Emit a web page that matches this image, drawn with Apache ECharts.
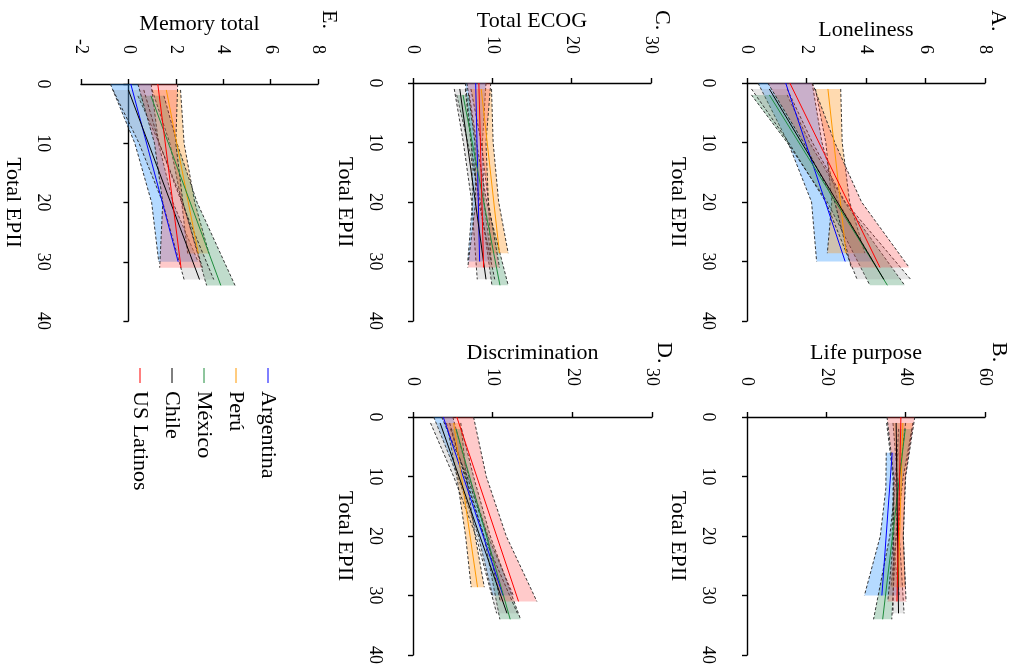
<!DOCTYPE html>
<html><head><meta charset="utf-8">
<script src="https://cdn.jsdelivr.net/npm/echarts@6/dist/echarts.min.js"></script>
<style>html,body{margin:0;padding:0;background:#fff}#c{width:1016px;height:671px}</style>
</head><body><div id="c"></div><script>
// ---- data ----
const countries = ['Argentina', 'Perú', 'México', 'Chile', 'US Latinos'];
const epiiTicks = [0, 10, 20, 30, 40];

// EPII sample positions (first/last = range of each country's fit)
const epiiDefault = [[0,10,20,30],[1,10,20,28.6],[2,10,20,34],[1,10,20,33],[0,10,20,31]];
const epiiLifePurpose = [[6,12,20,30],[1,10,20,28.6],[2,10,20,34],[1,10,20,33],[0,10,20,31]];

// A. Loneliness
const lonelinessFit   = [[1.3,3.3],[2.72,3.33],[0.75,4.72],[0.75,4.6],[1.44,4.47]];
const lonelinessLower = [[0.37,1.38,2.17,2.34],[2.3,2.65,2.85,2.7],[0.15,1.35,2.7,4.13],[0.15,1.4,2.65,3.7],[0.7,1.9,2.95,3.5]];
const lonelinessUpper = [[2.19,2.52,3.07,4.24],[3.15,3.2,3.45,3.96],[1.35,2.1,3.28,5.3],[1.35,2.2,3.3,5.5],[2.2,2.95,3.85,5.45]];

// B. Life purpose
const purposeFit   = [[36.6,34.0],[39.3,38.1],[39.9,34.2],[37.6,38.2],[38.8,37.8]];
const purposeLower = [[35.1,35.0,33.6,29.6],[36.8,37.9,37.6,36.3],[38.2,37.6,36.0,31.9],[35.2,36.8,37.0,36.8],[35.3,37.0,37.0,35.5]];
const purposeUpper = [[38.1,36.9,36.6,38.4],[41.8,39.9,39.4,39.9],[41.6,39.4,37.6,36.5],[40.0,38.4,38.4,39.6],[42.3,40.0,39.4,40.1]];

// C. Total ECOG
const ecogFit   = [[7.9,8.4],[8.6,10.9],[6.3,10.96],[5.9,9.2],[8.3,8.9]];
const ecogLower = [[6.6,7.4,7.5,6.9],[7.3,8.6,9.5,9.8],[5.5,6.9,8.5,9.95],[5.2,6.35,7.4,8.1],[6.8,7.8,7.9,6.9]];
const ecogUpper = [[9.2,8.75,8.95,9.9],[9.9,10.1,10.8,12.0],[7.1,8.0,9.3,12.0],[6.6,7.3,8.3,10.3],[9.8,9.2,9.5,10.9]];

// D. Discrimination
const discrFit   = [[3.8,11.3],[5.1,8.1],[5.4,12.2],[3.4,11.8],[5.5,13.25]];
const discrLower = [[2.6,5.6,8.2,10.0],[4.2,5.5,6.6,7.3],[4.7,6.6,8.9,10.9],[2.2,5.1,7.9,10.5],[3.6,6.8,9.3,10.95]];
const discrUpper = [[5.0,7.0,9.4,12.6],[6.0,6.7,7.8,8.95],[6.1,7.6,9.7,13.5],[4.6,6.5,8.9,13.1],[7.6,9.2,11.7,15.55]];

// E. Memory total
const memoryFit   = [[0.1,2.1],[1.6,2.95],[0.95,3.9],[0.0,3.0],[1.24,2.22]];
const memoryLower = [[-0.76,0.27,0.98,1.28],[1.0,1.75,2.25,2.5],[0.4,1.3,2.3,3.3],[-0.65,0.45,1.45,2.35],[0.4,1.1,1.45,1.32]];
const memoryUpper = [[0.96,1.27,1.88,2.94],[2.2,2.35,2.8,3.4],[1.5,2.05,2.9,4.5],[0.65,1.3,2.25,3.6],[2.08,2.0,2.3,3.12]];

// ---- styles ----
const lineColors = ['#0000ff', '#ff9900', '#1e8c3c', '#000000', '#ff0000'];
const fillColors = ['rgba(30,144,255,0.33)', 'rgba(255,150,30,0.35)', 'rgba(46,139,87,0.30)', 'rgba(140,140,140,0.22)', 'rgba(255,60,60,0.27)'];
const FONT = 'Liberation Serif, Times New Roman, serif';

const panels = [
  {letter:'A.', title:'Loneliness', min:0, max:8, interval:2, epii:epiiDefault, fit:lonelinessFit, lower:lonelinessLower, upper:lonelinessUpper,
   grid:{left:747, top:83, width:238, height:238}, xOff:23, yOff:24, nameGap:18, letterPos:[998, 10]},
  {letter:'B.', title:'Life purpose', min:0, max:60, interval:20, epii:epiiLifePurpose, fit:purposeFit, lower:purposeLower, upper:purposeUpper,
   grid:{left:747, top:417, width:238, height:238}, xOff:25, yOff:24, nameGap:26, letterPos:[999, 342]},
  {letter:'C.', title:'Total ECOG', min:0, max:30, interval:10, epii:epiiDefault, fit:ecogFit, lower:ecogLower, upper:ecogUpper,
   grid:{left:413, top:83, width:238, height:238}, xOff:23, yOff:23, nameGap:18, letterPos:[662, 10]},
  {letter:'D.', title:'Discrimination', min:0, max:30, interval:10, epii:epiiDefault, fit:discrFit, lower:discrLower, upper:discrUpper,
   grid:{left:413, top:417, width:239, height:238}, xOff:25, yOff:23, nameGap:26, letterPos:[664, 342]},
  {letter:'E.', title:'Memory total', min:-2, max:8, interval:2, epii:epiiDefault, fit:memoryFit, lower:memoryLower, upper:memoryUpper,
   grid:{left:81, top:84, width:237, height:237}, xOff:24, yOff:23, nameGap:18, letterPos:[329, 10]}
];

const grids = [], xAxes = [], yAxes = [], series = [], graphics = [];
const axisCommon = {
  axisLine:{show:true, lineStyle:{color:'#000', width:1.4}},
  axisTick:{show:true, inside:false, length:5, lineStyle:{color:'#000', width:1.4}},
  splitLine:{show:false},
  axisLabel:{rotate:-90, color:'#000', fontFamily:FONT, fontSize:18, margin:6},
  nameTextStyle:{color:'#000', fontFamily:FONT, fontSize:22}
};

panels.forEach((p, k) => {
  grids.push(Object.assign({containLabel:false}, p.grid));
  xAxes.push(Object.assign({}, axisCommon, {
    gridIndex:k, type:'value', position:'top', offset:p.xOff,
    min:p.min, max:p.max, interval:p.interval,
    name:p.title, nameLocation:'middle', nameGap:p.nameGap
  }));
  yAxes.push(Object.assign({}, axisCommon, {
    gridIndex:k, type:'value', position:'left', offset:p.yOff, inverse:true,
    min:epiiTicks[0], max:epiiTicks[epiiTicks.length-1], interval:epiiTicks[1]-epiiTicks[0],
    name:'Total EPII', nameLocation:'middle', nameRotate:-90, nameGap:34
  }));
  // confidence bands
  series.push({
    type:'custom', xAxisIndex:k, yAxisIndex:k, silent:true, z:1, clip:false,
    data: countries.map((c, i) => [p.lower[i][0], p.epii[i][0]]),
    renderItem: function(params, api) {
      const i = params.dataIndex;
      const ep = p.epii[i];
      const L = ep.map((e, j) => api.coord([p.lower[i][j], e]));
      const U = ep.map((e, j) => api.coord([p.upper[i][j], e]));
      const dash = {stroke:'#222', lineWidth:0.9, lineDash:[3,2], fill:null};
      return {type:'group', children:[
        {type:'polygon', shape:{points:L.concat(U.slice().reverse())}, style:{fill:fillColors[i]}},
        {type:'polyline', shape:{points:L}, style:Object.assign({}, dash)},
        {type:'polyline', shape:{points:U}, style:Object.assign({}, dash)}
      ]};
    }
  });
  // fitted lines
  countries.forEach((c, i) => {
    const ep = p.epii[i];
    series.push({
      type:'line', name:c, xAxisIndex:k, yAxisIndex:k, silent:true, z:3,
      symbol:'none', lineStyle:{color:lineColors[i], width:1},
      data:[[p.fit[i][0], ep[0]], [p.fit[i][1], ep[ep.length-1]]]
    });
  });
  graphics.push({type:'text', x:p.letterPos[0], y:p.letterPos[1], rotation:-Math.PI/2,
    style:{text:p.letter, fontFamily:FONT, fontSize:22, fill:'#000', textAlign:'left', textVerticalAlign:'middle'}});
});

// legend (rotated)
countries.forEach((c, i) => {
  const x = 268 - i * 32;
  graphics.push({type:'line', shape:{x1:x, y1:368, x2:x, y2:383}, style:{stroke:lineColors[i], lineWidth:1}});
  graphics.push({type:'text', x:x, y:391, rotation:-Math.PI/2,
    style:{text:c, fontFamily:FONT, fontSize:22, fill:'#000', textAlign:'left', textVerticalAlign:'middle'}});
});

const chart = echarts.init(document.getElementById('c'), null, {renderer:'canvas'});
chart.setOption({
  animation:false, backgroundColor:'#fff',
  grid:grids, xAxis:xAxes, yAxis:yAxes, series:series, graphic:graphics
});
</script></body></html>
